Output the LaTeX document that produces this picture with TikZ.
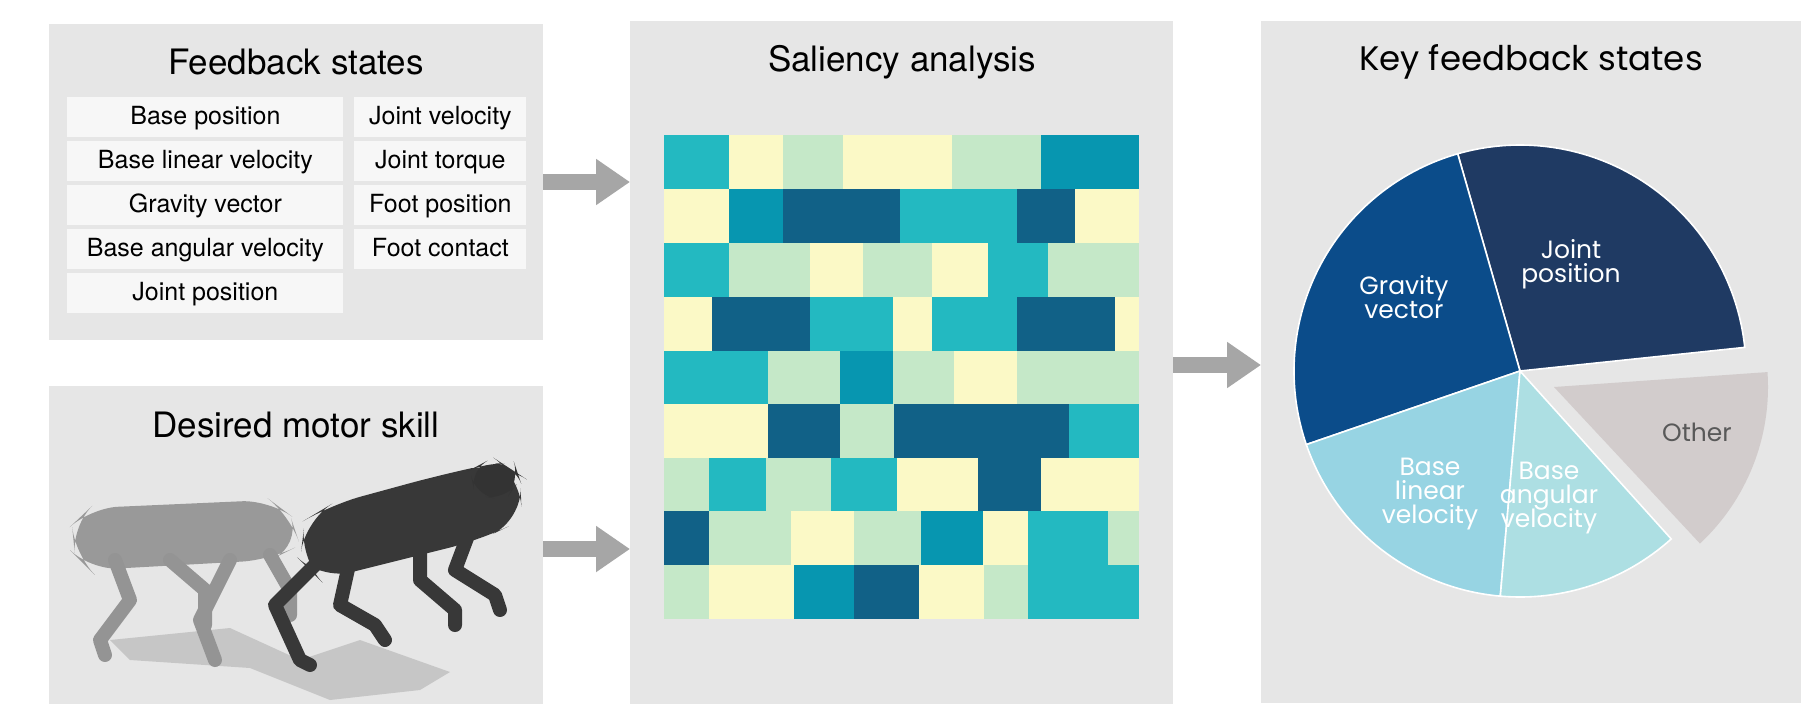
\documentclass[tikz,border=0pt]{standalone}
\usepackage{fontspec}
\setmainfont{TeX Gyre Heros}
\newfontfamily\pop{Poppins}
\usetikzlibrary{arrows.meta}
\definecolor{panel}{HTML}{E6E6E6}
\definecolor{itembg}{HTML}{F7F7F7}
\definecolor{cY}{HTML}{FBF9C6}
\definecolor{cL}{HTML}{C5E8C8}
\definecolor{cT}{HTML}{23B9C1}
\definecolor{cB}{HTML}{0796B0}
\definecolor{cD}{HTML}{116187}
\definecolor{pJ}{HTML}{1F3A63}
\definecolor{pG}{HTML}{0B4C8A}
\definecolor{pBL}{HTML}{97D4E3}
\definecolor{pBA}{HTML}{ADDFE3}
\definecolor{pO}{HTML}{D2CCCC}
\definecolor{arr}{HTML}{A6A6A6}
\tikzset{
  panelbox/.style={fill=panel,draw=none},
  item/.style={fill=itembg,draw=none,minimum height=20pt,anchor=west,text height=9.5pt,text depth=2.5pt,font=\fontsize{12.5}{14}\selectfont,inner xsep=5.5pt},
  ttl/.style={font=\fontsize{17.5}{20}\selectfont},
  bigarrow/.style={draw=arr,line width=8pt,-{Triangle[length=17pt,width=22pt]},shorten >=0pt},
  plab/.style={font=\pop\fontsize{12.5}{15}\selectfont,text=white,align=center},
  ghost/.style={draw=black!42,line width=7pt,line cap=round,line join=round},
  darkleg/.style={draw=black!78,line width=7pt,line cap=round,line join=round}
}
\begin{document}
\begin{tikzpicture}[x=0.5pt,y=-0.5pt]
\useasboundingbox (0,0) rectangle (1801,720);
\fill[white] (0,0) rectangle (1801,720);
% panels
\fill[panelbox] (49,24) rectangle (543,340);
\fill[panelbox] (49,386) rectangle (543,704);
\fill[panelbox] (630,21) rectangle (1173,704);
\fill[panelbox] (1261,21) rectangle (1801,703);
\node[ttl] (t1) at (296,62) {Feedback states};
\node[ttl] (t2) at (296,425) {Desired motor skill};
\node[ttl] (t3) at (902,62) {Saliency analysis};
\node[ttl,font=\pop\fontsize{17}{20}\selectfont] (t4) at (1531,62) {Key feedback states};
% items
\node[item,minimum width=138pt] (i1) at (67,117) {Base position};
\node[item,minimum width=138pt] (i2) at (67,161) {Base linear velocity};
\node[item,minimum width=138pt] (i3) at (67,205) {Gravity vector};
\node[item,minimum width=138pt] (i4) at (67,249) {Base angular velocity};
\node[item,minimum width=138pt] (i5) at (67,293) {Joint position};
\node[item,minimum width=86pt] (j1) at (354,117) {Joint velocity};
\node[item,minimum width=86pt] (j2) at (354,161) {Joint torque};
\node[item,minimum width=86pt] (j3) at (354,205) {Foot position};
\node[item,minimum width=86pt] (j4) at (354,249) {Foot contact};
% arrows
\coordinate (a1s) at (543,182); \coordinate (a1e) at (630,182);
\coordinate (a2s) at (543,549); \coordinate (a2e) at (630,549);
\coordinate (a3s) at (1173,365); \coordinate (a3e) at (1261,365);
\draw[bigarrow] (a1s) -- (a1e);
\draw[bigarrow] (a2s) -- (a2e);
\draw[bigarrow] (a3s) -- (a3e);
% heatmap
\begin{scope}[shift={(640,120)},x=0.16667pt,y=-0.16667pt]
\def\hrow#1#2#3{\foreach \a/\b/\c in {#3}{\fill[\c] (\a,#1) rectangle (\b,#2);}}
\hrow{45}{208}{72/267/cT,267/428/cY,428/608/cL,608/936/cY,936/1203/cL,1203/1498/cB}
\hrow{208}{370}{72/267/cY,267/428/cB,428/779/cD,779/1131/cT,1131/1305/cD,1305/1498/cY}
\hrow{370}{530}{72/267/cT,267/510/cL,510/668/cY,668/877/cL,877/1045/cY,1045/1225/cT,1225/1498/cL}
\hrow{530}{692}{72/216/cY,216/510/cD,510/760/cT,760/877/cY,877/1131/cT,1131/1425/cD,1425/1498/cY}
\hrow{692}{853}{72/383/cT,383/600/cL,600/760/cB,760/943/cL,943/1131/cY,1131/1498/cL}
\hrow{853}{1013}{72/383/cY,383/600/cD,600/762/cL,762/1288/cD,1288/1498/cT}
\hrow{1013}{1173}{72/208/cL,208/378/cT,378/572/cL,572/770/cT,770/1015/cY,1015/1203/cD,1203/1498/cY}
\hrow{1173}{1335}{72/208/cD,208/452/cL,452/642/cY,642/843/cL,843/1030/cB,1030/1165/cY,1165/1405/cT,1405/1498/cL}
\hrow{1335}{1497}{72/208/cL,208/463/cY,463/642/cB,642/836/cD,836/1033/cY,1033/1165/cL,1165/1498/cT}
\end{scope}
% pie
\coordinate (pc) at (1520,371);
\begin{scope}[shift={(1520,371)},y=0.5pt]
\filldraw[fill=pJ,draw=white,line width=0.8pt] (0,0) -- (106:226) arc[start angle=106,end angle=6,radius=226] -- cycle;
\filldraw[fill=pG,draw=white,line width=0.8pt] (0,0) -- (199:226) arc[start angle=199,end angle=106,radius=226] -- cycle;
\filldraw[fill=pBL,draw=white,line width=0.8pt] (0,0) -- (265:226) arc[start angle=265,end angle=199,radius=226] -- cycle;
\filldraw[fill=pBA,draw=white,line width=0.8pt] (0,0) -- (312:226) arc[start angle=312,end angle=265,radius=226] -- cycle;
\fill[pO] (34,-16) -- ++(4:214) arc[start angle=4,end angle=-47,radius=214] -- cycle;
\end{scope}
\node[plab] (lj) at (1571,264) {Joint\\[-3pt]position};
\node[plab] (lg) at (1404,297) {Gravity\\[-3pt]vector};
\node[plab] (ll) at (1430,494) {Base\\[-3pt]linear\\[-3pt]velocity};
\node[plab] (la) at (1549,498) {Base\\[-3pt]angular\\[-3pt]velocity};
\node[plab,text=black!65] (lo) at (1697,432) {Other};
% robot dogs
\fill[black!30,opacity=0.6] (110,640) -- (230,628) -- (300,660) -- (360,640) -- (450,672) -- (420,690) -- (330,700) -- (250,668) -- (130,660) -- cycle;
\fill[black!40,rounded corners=14pt] (72,525) -- (90,508) -- (270,500) -- (290,515) -- (300,545) -- (270,560) -- (90,570) -- (75,555) -- cycle;
\draw[ghost] (115,560) -- (130,600) -- (100,640) -- (105,655);
\draw[ghost] (170,560) -- (205,590) -- (205,625);
\draw[ghost] (230,560) -- (200,620) -- (215,660);
\draw[ghost] (270,555) -- (290,590) -- (290,615);
\fill[black!78,rounded corners=16pt] (305,520) -- (330,505) -- (440,475) -- (500,462) -- (520,475) -- (522,520) -- (480,540) -- (380,565) -- (320,580) -- (300,560) -- cycle;
\fill[black!80,rounded corners=10pt] (470,470) -- (485,462) -- (515,465) -- (520,480) -- (505,500) -- (475,495) -- cycle;
\draw[darkleg] (320,560) -- (275,605) -- (300,660) -- (310,665);
\draw[darkleg] (350,560) -- (340,605) -- (375,625) -- (385,640);
\draw[darkleg] (420,540) -- (420,580) -- (455,610) -- (455,625);
\draw[darkleg] (470,530) -- (455,570) -- (495,595) -- (500,610);
\end{tikzpicture}
\end{document}
